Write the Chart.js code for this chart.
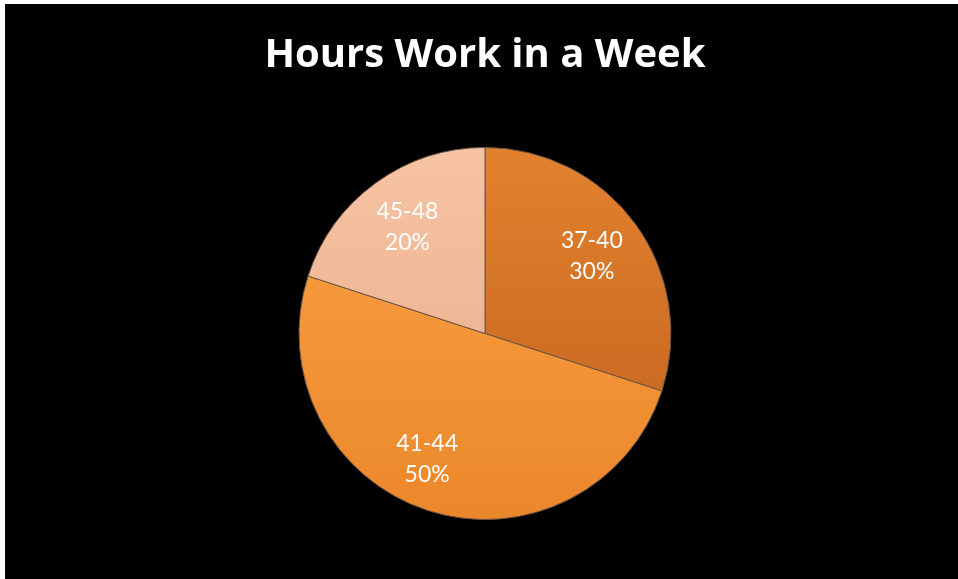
<!DOCTYPE html>
<html>
<head>
<meta charset="utf-8">
<script src="https://cdn.jsdelivr.net/npm/chart.js@4"></script>
<style>
  body { margin: 0; background: #fff; }
  #box { position: absolute; left: 5px; top: 4px; width: 953px; height: 575px; background: #000; }
</style>
</head>
<body>
<div id="box"><canvas id="myChart" width="953" height="575"></canvas></div>
<script>
// data
const categories = ['37-40', '41-44', '45-48'];
const shares = [30, 50, 20];
const chartTitle = 'Hours Work in a Week';

// light (top) / dark (bottom) shade for each slice
const topColors = ['#e2822e', '#fba244', '#f7c4a3'];
const bottomColors = ['#c05f1c', '#eb872b', '#e6a886'];

function sliceFill(context) {
  const chart = context.chart;
  const area = chart.chartArea;
  if (!area) return topColors[context.dataIndex];
  const g = chart.ctx.createLinearGradient(0, area.top, 0, area.bottom);
  g.addColorStop(0, topColors[context.dataIndex]);
  g.addColorStop(1, bottomColors[context.dataIndex]);
  return g;
}

// labels inside slices, like the excel ones
const labelRadius = [0.71, 0.74, 0.71];
const sliceLabels = {
  id: 'sliceLabels',
  afterDatasetsDraw(chart) {
    const ctx = chart.ctx;
    const meta = chart.getDatasetMeta(0);
    ctx.save();
    ctx.fillStyle = '#ffffff';
    ctx.font = '23px Lato';
    ctx.textAlign = 'center';
    ctx.textBaseline = 'middle';
    meta.data.forEach((arc, i) => {
      let mid = (arc.startAngle + arc.endAngle) / 2;
      if (i == 1) mid += 0.12; // excel pushes this one a bit left
      const r = arc.outerRadius * labelRadius[i];
      const x = arc.x + Math.cos(mid) * r;
      const y = arc.y + Math.sin(mid) * r;
      ctx.fillText(categories[i], x, y - 15);
      ctx.fillText(shares[i] + '%', x, y + 16);
    });
    ctx.restore();
  }
};

const ctx = document.getElementById('myChart').getContext('2d');

new Chart(ctx, {
  type: 'pie',
  data: {
    labels: categories,
    datasets: [{
      data: shares,
      backgroundColor: sliceFill,
      borderColor: '#6a5546',
      borderWidth: 1
    }]
  },
  options: {
    responsive: false,
    animation: false,
    layout: { padding: { left: 7, bottom: 59 } },
    plugins: {
      legend: { display: false },
      tooltip: { enabled: false },
      title: {
        display: true,
        text: chartTitle,
        color: '#ffffff',
        font: { family: 'Open Sans', size: 40, weight: 'bold' },
        padding: { top: 28, bottom: 67 }
      }
    }
  },
  plugins: [sliceLabels]
});
</script>
</body>
</html>
